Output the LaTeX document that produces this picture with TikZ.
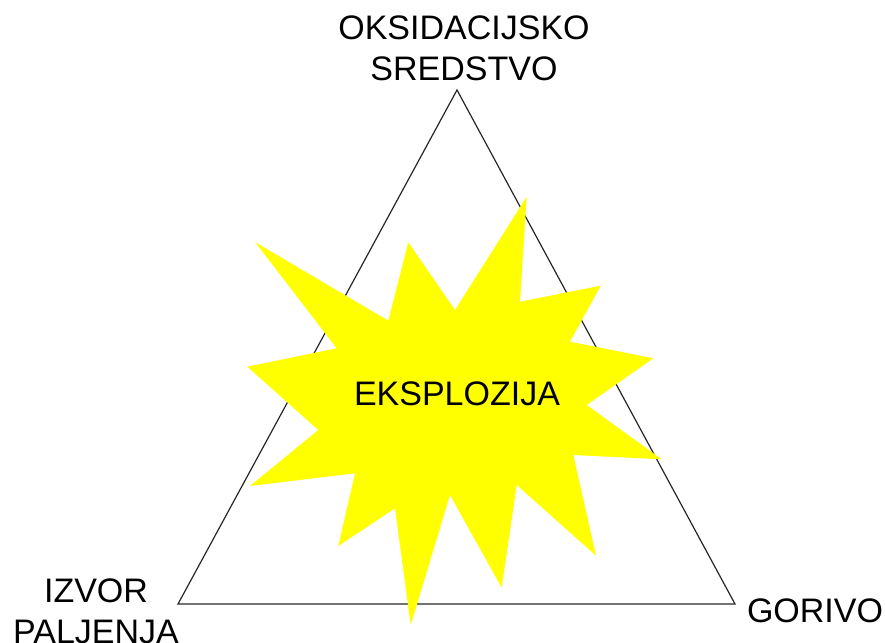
\documentclass[tikz,border=0pt]{standalone}
\usepackage{fontspec}
\setmainfont{Liberation Sans}
\begin{document}
\begin{tikzpicture}[x=1pt,y=-1pt,
  lbl/.style={font=\fontsize{34}{41}\selectfont, align=center, inner sep=0pt},
  tri/.style={draw=black!85, line width=1.2pt, line join=miter},
  burst/.style={fill={rgb,255:red,255;green,255;blue,0}, draw=none}]
\useasboundingbox (0,0) rectangle (885,642);
\coordinate (top) at (457,90);
\coordinate (bl) at (178,604);
\coordinate (br) at (735,604);
\draw[tri] (top) -- (bl) -- (br) -- cycle;
\fill[burst] (255,242) -- (388.3,320.7) -- (408.3,242.3) -- (455,310) -- (526.7,196.7)
  -- (520,301.7) -- (600.7,285.7) -- (570,341.7) -- (653.3,358.3) -- (586.7,405)
  -- (661.7,459.3) -- (573.3,455) -- (596,555.7) -- (516.7,485) -- (501.7,587.7)
  -- (450,495) -- (410.7,625) -- (395,508.3) -- (338.3,546) -- (355,473.3)
  -- (250,486) -- (318.3,430) -- (247.3,366.7) -- (336.7,348.3) -- cycle;
\node[lbl, anchor=base] (boom) at (457,405) {EKSPLOZIJA};
\node[lbl, anchor=base] (oks) at (464,81) {OKSIDACIJSKO\\SREDSTVO};
\node[lbl, anchor=base] (izv) at (96,643) {IZVOR\\PALJENJA};
\node[lbl, anchor=base] (gor) at (815,622) {GORIVO};
\end{tikzpicture}
\end{document}
